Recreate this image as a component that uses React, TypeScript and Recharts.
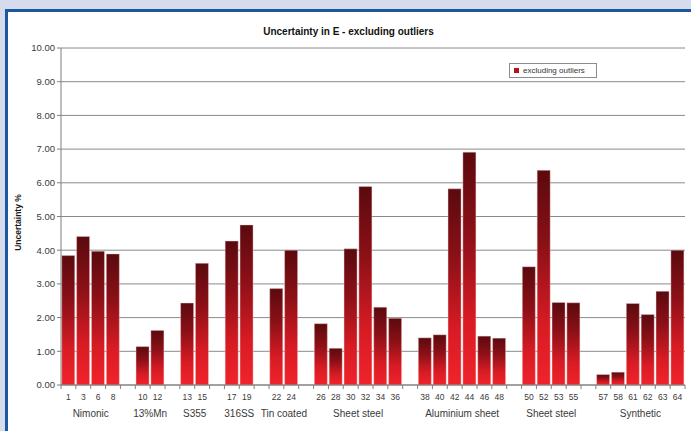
import React from 'react';
import { BarChart, Bar, XAxis, YAxis, CartesianGrid, Legend } from 'recharts';

// Material groups, the specimen numbers tested in each, and the uncertainty (%) per specimen
const groupNames = [
  'Nimonic',
  '13%Mn',
  'S355',
  '316SS',
  'Tin coated',
  'Sheet steel',
  'Aluminium sheet',
  'Sheet steel',
  'Synthetic',
];

const specimenIds = [
  ['1', '3', '6', '8'],
  ['10', '12'],
  ['13', '15'],
  ['17', '19'],
  ['22', '24'],
  ['26', '28', '30', '32', '34', '36'],
  ['38', '40', '42', '44', '46', '48'],
  ['50', '52', '53', '55'],
  ['57', '58', '61', '62', '63', '64'],
];

const uncertaintyPct = [
  [3.84, 4.41, 3.97, 3.89],
  [1.14, 1.62],
  [2.43, 3.61],
  [4.27, 4.75],
  [2.86, 4.0],
  [1.82, 1.09, 4.04, 5.89, 2.31, 1.98],
  [1.4, 1.49, 5.82, 6.91, 1.45, 1.39],
  [3.51, 6.37, 2.45, 2.44],
  [0.31, 0.38, 2.42, 2.09, 2.78, 4.0],
];

const yTicks = [0, 1, 2, 3, 4, 5, 6, 7, 8, 9, 10];

const SERIES_NAME = 'excluding outliers';
const FONT = '"Liberation Sans", Arial, sans-serif';

type Row = {
  key: string;
  id: string;
  value: number | null;
  group: string;
  first: boolean;
  size: number;
};

// One category per specimen, with an empty category between material groups
const rows: Row[] = [];
groupNames.forEach((group, gi) => {
  specimenIds[gi].forEach((id, i) => {
    rows.push({
      key: `${gi}-${id}`,
      id,
      value: uncertaintyPct[gi][i],
      group,
      first: i === 0,
      size: specimenIds[gi].length,
    });
  });
  if (gi < groupNames.length - 1) {
    rows.push({ key: `gap-${gi}`, id: '', value: null, group: '', first: false, size: 0 });
  }
});

// Specimen number under each bar, group name centred under its run of bars,
// and tick marks on the category boundaries
function SpecimenTick(props: any) {
  const { x, y, payload } = props;
  const row = rows[payload.index];
  const half = typeof payload.offset === 'number' ? payload.offset : 0;
  const isLast = payload.index === rows.length - 1;
  return (
    <g>
      <line x1={x - half} x2={x - half} y1={y} y2={y + 4} stroke="#7f7f7f" strokeWidth={1} />
      {isLast && <line x1={x + half} x2={x + half} y1={y} y2={y + 4} stroke="#7f7f7f" strokeWidth={1} />}
      {row && row.id && (
        <text x={x} y={y + 15} textAnchor="middle" fontSize={8.5} fill="#3a3a3a" fontFamily={FONT}>
          {row.id}
        </text>
      )}
      {row && row.first && (
        <text
          x={x - half + row.size * half}
          y={y + 32}
          textAnchor="middle"
          fontSize={10}
          fill="#3a3a3a"
          fontFamily={FONT}
        >
          {row.group}
        </text>
      )}
    </g>
  );
}

function YTitle(props: any) {
  const { viewBox } = props;
  const cx = viewBox.x + 7;
  const cy = viewBox.y + viewBox.height / 2 + 6;
  return (
    <text
      x={cx}
      y={cy}
      transform={`rotate(-90, ${cx}, ${cy})`}
      textAnchor="middle"
      dominantBaseline="central"
      fontSize={8.5}
      fontWeight="bold"
      fill="#1a1a1a"
      fontFamily={FONT}
    >
      Uncertainty %
    </text>
  );
}

function LegendBox() {
  return (
    <div
      style={{
        border: '1px solid #8c8c8c',
        background: '#ffffff',
        height: 13,
        width: 86,
        display: 'flex',
        alignItems: 'center',
        fontFamily: FONT,
        fontSize: 8,
        color: '#333',
        boxSizing: 'content-box',
      }}
    >
      <span
        style={{
          display: 'inline-block',
          width: 5,
          height: 5,
          background: '#b3141c',
          margin: '0 4px 0 4px',
        }}
      />
      <span>{SERIES_NAME}</span>
    </div>
  );
}

export default function App() {
  return (
    <div
      style={{
        position: 'absolute',
        left: 0,
        top: 0,
        width: 691,
        height: 431,
        background: '#d6dcec',
        overflow: 'hidden',
      }}
    >
      <div
        style={{
          position: 'absolute',
          left: 5,
          top: 9,
          width: 700,
          height: 440,
          background: '#ffffff',
          borderLeft: '3px solid #1c58a2',
          borderTop: '3px solid #1c58a2',
        }}
      />
      <div
        style={{
          position: 'absolute',
          left: 0,
          top: 26,
          width: 691,
          textAlign: 'center',
          fontFamily: FONT,
          fontSize: 10,
          fontWeight: 'bold',
          color: '#111',
          paddingLeft: 6,
          boxSizing: 'border-box',
        }}
      >
        Uncertainty in E - excluding outliers
      </div>
      <div style={{ position: 'absolute', left: 0, top: 0 }}>
        <BarChart
          width={691}
          height={431}
          data={rows}
          margin={{ top: 48, right: 6, bottom: 6, left: 11 }}
          barCategoryGap={0.75}
        >
          <defs>
            <linearGradient id="barShade" x1="0" y1="0" x2="0" y2="1">
              <stop offset="0%" stopColor="#5a0a0f" />
              <stop offset="35%" stopColor="#8c1017" />
              <stop offset="72%" stopColor="#d81b24" />
              <stop offset="100%" stopColor="#f0232b" />
            </linearGradient>
          </defs>
          <CartesianGrid vertical={false} stroke="#8a8a8a" strokeWidth={1} yAxisId="left" />
          <XAxis
            dataKey="key"
            interval={0}
            height={40}
            tickSize={0}
            tickMargin={0}
            tickLine={false}
            axisLine={{ stroke: '#7f7f7f' }}
            tick={<SpecimenTick />}
          />
          <YAxis
            yAxisId="left"
            domain={[0, 10]}
            ticks={yTicks}
            width={50}
            tickSize={4}
            tickMargin={2}
            tickFormatter={(v: number) => v.toFixed(2)}
            tick={{ fontSize: 9.5, fill: '#3a3a3a', fontFamily: FONT }}
            tickLine={{ stroke: '#7f7f7f' }}
            axisLine={{ stroke: '#7f7f7f' }}
            label={{ content: <YTitle /> }}
          />
          <YAxis
            yAxisId="right"
            orientation="right"
            domain={[0, 10]}
            width={0}
            tick={false}
            tickLine={false}
            axisLine={{ stroke: '#c4c4c4' }}
          />
          <Legend
            layout="horizontal"
            verticalAlign="middle"
            align="center"
            wrapperStyle={{ position: 'absolute', left: 509, top: 63, width: 88 }}
            content={<LegendBox />}
          />
          <Bar
            yAxisId="left"
            dataKey="value"
            name={SERIES_NAME}
            fill="url(#barShade)"
            stroke="#f6d0d0"
            strokeWidth={0.4}
            isAnimationActive={false}
          />
        </BarChart>
      </div>
    </div>
  );
}
